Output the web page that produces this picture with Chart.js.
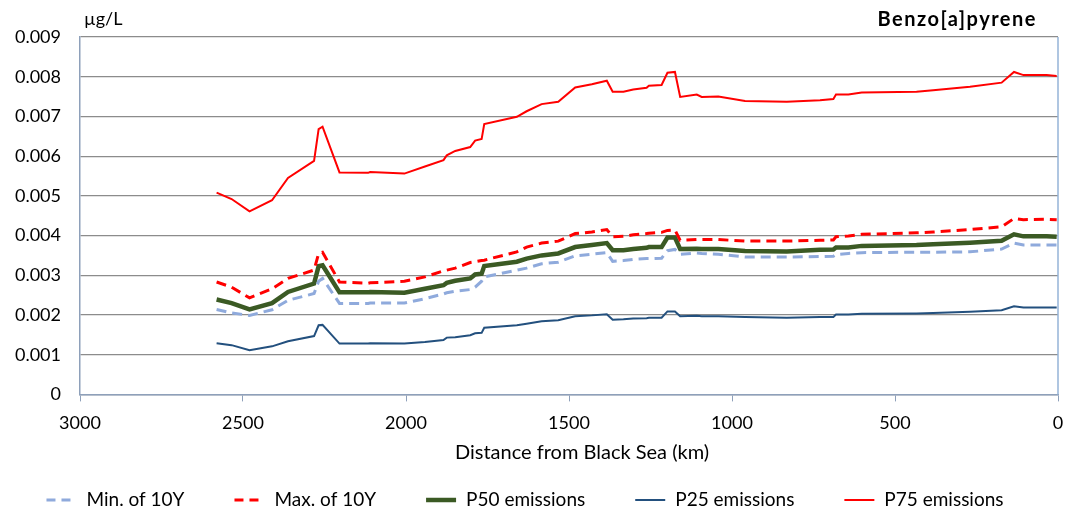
<!DOCTYPE html>
<html>
<head>
<meta charset="utf-8">
<script src="https://cdn.jsdelivr.net/npm/chart.js@4/dist/chart.umd.min.js"></script>
<style>
  html, body { margin: 0; padding: 0; background: #fff; }
  #wrap { width: 1066px; height: 515px; }
</style>
</head>
<body>
<div id="wrap"><canvas id="myChart" width="1066" height="515"></canvas></div>
<script>
// distance from Black Sea (km), shared by all series
let distKm = [2581, 2535, 2480, 2411, 2362, 2282, 2268, 2256, 2204, 2116, 2110, 2005, 1942, 1885, 1875, 1849,
  1803, 1788, 1768, 1760, 1660, 1630, 1584, 1533, 1481, 1430, 1384, 1366, 1333, 1303, 1262, 1255, 1216,
  1198, 1175, 1159, 1108, 1093, 1042, 960, 832, 730, 689, 681, 643, 602, 434, 383, 270, 173, 135, 106, 35, 4];

let minOf10Y = [0.00214, 0.00205, 0.00199, 0.00213, 0.00237, 0.00254, 0.00285, 0.00292, 0.00229, 0.00229, 0.00230, 0.00230, 0.00241, 0.00253, 0.00256, 0.00260,
  0.00264, 0.00270, 0.00285, 0.00296, 0.00313, 0.00318, 0.00329, 0.00333, 0.00349, 0.00353, 0.00357, 0.00335, 0.00337, 0.00340, 0.00342, 0.00342, 0.00343,
  0.00362, 0.00365, 0.00353, 0.00356, 0.00355, 0.00353, 0.00346, 0.00346, 0.00347, 0.00348, 0.00352, 0.00355, 0.00357, 0.00358, 0.00358, 0.00359, 0.00366, 0.00381, 0.00376, 0.00376, 0.00376];

let maxOf10Y = [0.00283, 0.00270, 0.00243, 0.00266, 0.00292, 0.00313, 0.00355, 0.00358, 0.00283, 0.00280, 0.00281, 0.00285, 0.00296, 0.00311, 0.00313, 0.00318,
  0.00332, 0.00334, 0.00337, 0.00338, 0.00359, 0.00371, 0.00381, 0.00386, 0.00405, 0.00409, 0.00415, 0.00397, 0.00398, 0.00402, 0.00405, 0.00406, 0.00408,
  0.00413, 0.00414, 0.00388, 0.00390, 0.00390, 0.00390, 0.00386, 0.00386, 0.00388, 0.00389, 0.00397, 0.00399, 0.00403, 0.00407, 0.00409, 0.00415, 0.00422, 0.00443, 0.00440, 0.00441, 0.00440];

let p50 = [0.00239, 0.00230, 0.00214, 0.00230, 0.00258, 0.00279, 0.00323, 0.00325, 0.00257, 0.00257, 0.00258, 0.00256, 0.00266, 0.00275, 0.00281, 0.00286,
  0.00292, 0.00302, 0.00304, 0.00323, 0.00334, 0.00342, 0.00350, 0.00355, 0.00371, 0.00376, 0.00381, 0.00363, 0.00363, 0.00366, 0.00369, 0.00371, 0.00371,
  0.00395, 0.00395, 0.00366, 0.00367, 0.00366, 0.00366, 0.00361, 0.00360, 0.00364, 0.00365, 0.00370, 0.00370, 0.00374, 0.00376, 0.00378, 0.00382, 0.00387, 0.00403, 0.00398, 0.00398, 0.00397];

let p25 = [0.00129, 0.00124, 0.00111, 0.00121, 0.00134, 0.00147, 0.00174, 0.00175, 0.00128, 0.00128, 0.00129, 0.00128, 0.00132, 0.00137, 0.00143, 0.00144,
  0.00149, 0.00154, 0.00155, 0.00168, 0.00174, 0.00178, 0.00184, 0.00187, 0.00197, 0.00199, 0.00202, 0.00188, 0.00189, 0.00191, 0.00192, 0.00193, 0.00193,
  0.00209, 0.00209, 0.00197, 0.00198, 0.00197, 0.00197, 0.00195, 0.00193, 0.00195, 0.00195, 0.00201, 0.00201, 0.00203, 0.00204, 0.00205, 0.00208, 0.00212, 0.00222, 0.00219, 0.00219, 0.00219];

let p75 = [0.00508, 0.00492, 0.00461, 0.00489, 0.00545, 0.00588, 0.00668, 0.00674, 0.00559, 0.00558, 0.00560, 0.00556, 0.00574, 0.00590, 0.00602, 0.00613,
  0.00623, 0.00639, 0.00643, 0.00681, 0.00699, 0.00713, 0.00731, 0.00737, 0.00773, 0.00781, 0.00790, 0.00762, 0.00762, 0.00768, 0.00772, 0.00777, 0.00779,
  0.00810, 0.00812, 0.00749, 0.00755, 0.00749, 0.00750, 0.00739, 0.00737, 0.00741, 0.00744, 0.00755, 0.00755, 0.00760, 0.00762, 0.00766, 0.00775, 0.00785, 0.00812, 0.00804, 0.00804, 0.00802];

let seriesNames = ['Min. of 10Y', 'Max. of 10Y', 'P50 emissions', 'P25 emissions', 'P75 emissions'];
let xTicks = [3000, 2500, 2000, 1500, 1000, 500, 0];
let yTicks = [0, 0.001, 0.002, 0.003, 0.004, 0.005, 0.006, 0.007, 0.008, 0.009];

function toPoints(vals) {
    return distKm.map((km, i) => ({ x: km, y: vals[i] }));
}

Chart.defaults.font.family = 'Lato';
Chart.defaults.font.size = 18;
Chart.defaults.color = '#000';

// unit label, chart name, axis title, right-hand axis line and the legend row
const extras = {
    id: 'extras',
    afterDraw(chart) {
        const c = chart.ctx;
        const a = chart.chartArea;
        c.save();
        c.strokeStyle = '#95B3D7';
        c.lineWidth = 1.5;
        c.beginPath();
        c.moveTo(a.right, a.top);
        c.lineTo(a.right, a.bottom);
        c.stroke();

        c.fillStyle = '#000';
        c.textBaseline = 'middle';
        c.font = '18px Lato';
        c.textAlign = 'left';
        c.fillText('\u00b5g/L', a.left + 4, 19);
        c.font = 'bold 20px Lato';
        c.letterSpacing = '1.5px';
        c.textAlign = 'right';
        c.fillText('Benzo[a]pyrene', a.right - 21, 20);
        c.letterSpacing = '0px';

        c.font = '20px Lato';
        c.textAlign = 'center';
        c.fillText('Distance from Black Sea (km)', (a.left + a.right) / 2 + 13, a.bottom + 58);

        // legend
        const sample = 30, textGap = 10, itemGap = 50, legendY = 500;
        c.font = '19px Lato';
        c.textAlign = 'left';
        const sets = chart.data.datasets;
        const widths = sets.map(ds => sample + textGap + c.measureText(ds.label).width);
        let total = widths.reduce((s, w) => s + w, 0) + itemGap * (sets.length - 1);
        let x = (chart.width - total) / 2 - 8;
        sets.forEach((ds, i) => {
            c.strokeStyle = ds.borderColor;
            c.lineWidth = ds.borderWidth;
            c.setLineDash(ds.borderDash.length ? [9, 6] : []);
            c.beginPath();
            c.moveTo(x, legendY);
            c.lineTo(x + sample, legendY);
            c.stroke();
            c.setLineDash([]);
            c.fillText(ds.label, x + sample + textGap, legendY);
            x += widths[i] + itemGap;
        });
        c.restore();
    }
};

let lineCfg = (label, vals, color, width, dash) => ({
    label: label,
    data: toPoints(vals),
    borderColor: color,
    backgroundColor: color,
    borderWidth: width,
    borderDash: dash,
    pointRadius: 0,
    tension: 0,
    fill: false
});

let myChart = document.getElementById('myChart').getContext('2d');
let bapChart = new Chart(myChart, {
    type: 'line',
    data: {
        datasets: [
            lineCfg(seriesNames[0], minOf10Y, '#8FAADC', 3, [10, 6]),
            lineCfg(seriesNames[1], maxOf10Y, '#FF0000', 3, [10, 6]),
            lineCfg(seriesNames[2], p50, '#3B5A24', 4.5, []),
            lineCfg(seriesNames[3], p25, '#23507E', 2, []),
            lineCfg(seriesNames[4], p75, '#FF0000', 2, [])
        ]
    },
    options: {
        responsive: false,
        animation: false,
        layout: { padding: { left: 10, right: 0, top: 37, bottom: 70 } },
        plugins: {
            legend: { display: false },
            tooltip: { enabled: false }
        },
        scales: {
            x: {
                type: 'linear',
                reverse: true,
                min: 0,
                max: 3000,
                afterBuildTicks: s => { s.ticks = xTicks.map(v => ({ value: v })); },
                afterFit: s => { s.paddingRight = 8; },
                ticks: { padding: 11, maxRotation: 0, callback: v => String(v) },
                grid: { drawOnChartArea: false, drawTicks: true, tickLength: 7, tickColor: '#8EA0BA' },
                border: { color: '#8EA0BA', width: 1.5 }
            },
            y: {
                min: 0,
                max: 0.009,
                afterBuildTicks: s => { s.ticks = yTicks.map(v => ({ value: v })); },
                afterFit: s => { s.width = 70; },
                ticks: { padding: 19, callback: v => (v === 0 ? '0' : v.toFixed(3)) },
                grid: { color: '#8C8C8C', lineWidth: 1.2, drawTicks: false },
                border: { color: '#8EA0BA', width: 1.5 }
            }
        }
    },
    plugins: [extras]
});
</script>
</body>
</html>
